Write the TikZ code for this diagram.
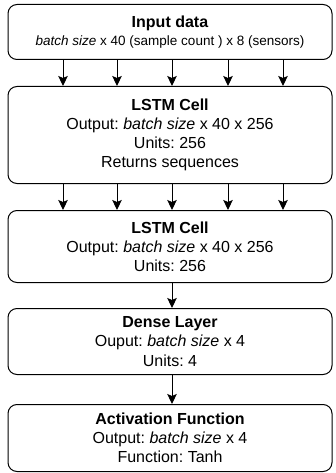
\documentclass[tikz,border=0pt]{standalone}
\usepackage{fontspec}
\setmainfont{Liberation Sans}
\usetikzlibrary{arrows.meta}
\frenchspacing
\begin{document}
\begin{tikzpicture}[x=1pt,y=-1pt,
  layer/.style={draw=black, line width=1pt, rounded corners=9pt, fill=white,
    minimum width=324pt, anchor=north, align=center, inner sep=0pt,
    font=\fontsize{16}{19.2}\selectfont\frenchspacing},
  arr/.style={line width=1pt, -{Stealth[length=10pt,width=9.5pt,inset=2pt]}}]
\useasboundingbox (0,0) rectangle (335,473);
\node[layer, minimum height=55pt] (b1) at (170,4)
  {\textbf{Input data}\\[-1pt]{\fontsize{13.5}{16}\selectfont\textit{batch size} x 40 (sample count ) x 8 (sensors)}};
\node[layer, minimum height=97pt] (b2) at (170,86)
  {\textbf{LSTM Cell}\\Output: \textit{batch size} x 40 x 256\\Units: 256\\Returns sequences};
\node[layer, minimum height=72pt] (b3) at (170,210)
  {\textbf{LSTM Cell}\\Output: \textit{batch size} x 40 x 256\\Units: 256};
\node[layer, minimum height=66pt] (b4) at (170,308)
  {\textbf{Dense Layer}\\Ouput: \textit{batch size} x 4\\Units: 4};
\node[layer, minimum height=67pt] (b5) at (170,404)
  {\textbf{Activation Function}\\Output: \textit{batch size} x 4\\Function: Tanh};
\coordinate (c1) at (63,0);
\coordinate (c2) at (117,0);
\coordinate (c3) at (172,0);
\coordinate (c4) at (228,0);
\coordinate (c5) at (283,0);
\foreach \c in {c1,c2,c3,c4,c5} {
  \draw[arr] (b1.south -| \c) -- (b2.north -| \c);
  \draw[arr] (b2.south -| \c) -- (b3.north -| \c);
}
\draw[arr] (b3.south -| c3) -- (b4.north -| c3);
\draw[arr] (b4.south -| c3) -- (b5.north -| c3);
\end{tikzpicture}
\end{document}
